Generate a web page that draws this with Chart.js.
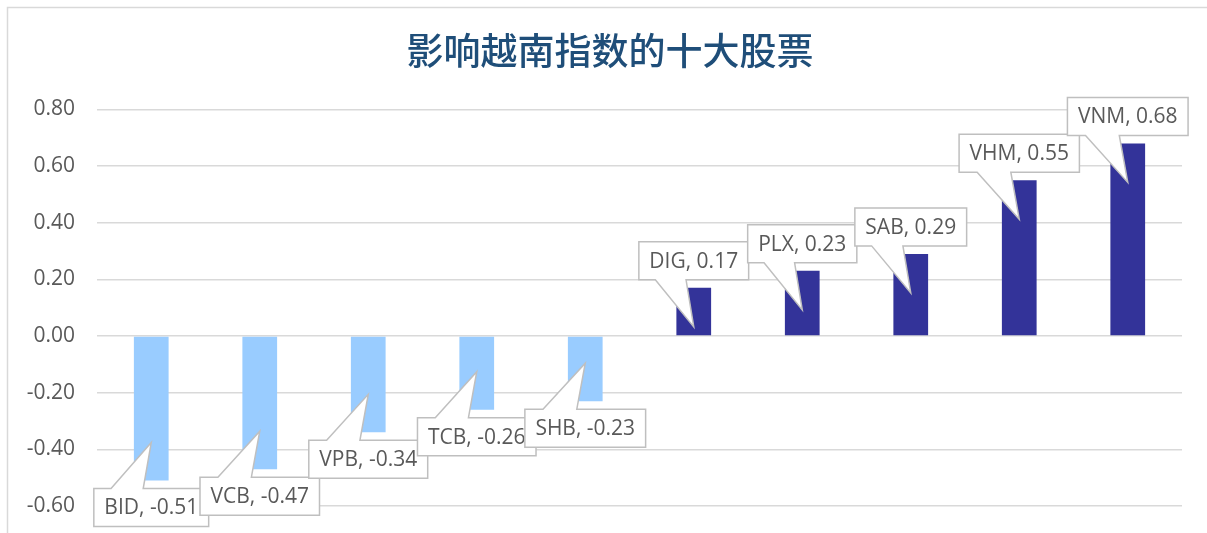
<!DOCTYPE html>
<html>

<head>
    <meta charset="utf-8">
    <title>影响越南指数的十大股票</title>
    <script src="https://cdn.jsdelivr.net/npm/chart.js"></script>
    <style>
        body { margin: 0; background: #fff; }
    </style>
</head>

<body>
    <canvas id="myChart" width="1207" height="533"></canvas>
    <script>
        // data
        const stocks = ['BID', 'VCB', 'VPB', 'TCB', 'SHB', 'DIG', 'PLX', 'SAB', 'VHM', 'VNM'];
        const impact = [-0.51, -0.47, -0.34, -0.26, -0.23, 0.17, 0.23, 0.29, 0.55, 0.68];
        const chartTitle = '影响越南指数的十大股票';

        const textFont = "'Open Sans', 'Noto Sans', sans-serif";

        // frame line round the chart (top and left only are visible)
        const framePlugin = {
            id: 'frame',
            beforeDraw(chart) {
                const ctx = chart.ctx;
                ctx.save();
                ctx.strokeStyle = '#d9d9d9';
                ctx.lineWidth = 1.5;
                ctx.beginPath();
                ctx.moveTo(7.5, chart.height);
                ctx.lineTo(7.5, 7.5);
                ctx.lineTo(chart.width, 7.5);
                ctx.stroke();
                ctx.restore();
            }
        };

        // Excel-like callout labels pointing into each bar
        const calloutPlugin = {
            id: 'callouts',
            afterDatasetsDraw(chart) {
                const ctx = chart.ctx;
                const meta = chart.getDatasetMeta(0);
                ctx.save();
                ctx.font = '21px ' + textFont;
                meta.data.forEach((bar, i) => {
                    const v = impact[i];
                    const text = stocks[i] + ', ' + v.toFixed(2);
                    const w = ctx.measureText(text).width + 21;
                    const h = 38;
                    const left = bar.x - w / 2;
                    const right = left + w;
                    const gap = 8;
                    const wa = left + w * 0.15;
                    const wb = left + w * 0.43;
                    let top, bottom;
                    ctx.beginPath();
                    if (v >= 0) {
                        bottom = bar.y - gap;
                        top = bottom - h;
                        const tipY = bar.y + 39;
                        ctx.moveTo(left, top);
                        ctx.lineTo(right, top);
                        ctx.lineTo(right, bottom);
                        ctx.lineTo(wb, bottom);
                        ctx.lineTo(bar.x, tipY);
                        ctx.lineTo(wa, bottom);
                        ctx.lineTo(left, bottom);
                    } else {
                        top = bar.y + gap;
                        bottom = top + h;
                        const tipY = bar.y - 38;
                        ctx.moveTo(left, top);
                        ctx.lineTo(wa, top);
                        ctx.lineTo(bar.x, tipY);
                        ctx.lineTo(wb, top);
                        ctx.lineTo(right, top);
                        ctx.lineTo(right, bottom);
                        ctx.lineTo(left, bottom);
                    }
                    ctx.closePath();
                    ctx.fillStyle = '#ffffff';
                    ctx.fill();
                    ctx.strokeStyle = '#bfbfbf';
                    ctx.lineWidth = 1.5;
                    ctx.stroke();
                    ctx.fillStyle = '#595959';
                    ctx.textAlign = 'center';
                    ctx.textBaseline = 'middle';
                    ctx.fillText(text, bar.x, (top + bottom) / 2 + 1);
                });
                ctx.restore();
            }
        };

        const config = {
            type: 'bar',
            data: {
                labels: stocks,
                datasets: [{
                    label: '影响',
                    data: impact,
                    backgroundColor: ctx => impact[ctx.dataIndex] < 0 ? '#99ccff' : '#333399',
                    categoryPercentage: 1,
                    barPercentage: 0.32
                }]
            },
            options: {
                responsive: false,
                animation: false,
                layout: {
                    padding: { left: 13, right: 0, top: 0, bottom: 27 }
                },
                plugins: {
                    legend: { display: false },
                    tooltip: { enabled: false },
                    title: {
                        display: true,
                        text: chartTitle,
                        color: '#1f4e79',
                        font: { family: "'Noto Sans CJK SC', sans-serif", size: 37, weight: '500', lineHeight: 1.2 },
                        padding: { top: 29, bottom: 36 }
                    }
                },
                scales: {
                    x: {
                        display: false
                    },
                    y: {
                        min: -0.6,
                        max: 0.8,
                        border: { display: false },
                        grid: { color: '#d9d9d9', lineWidth: 1.5, drawTicks: false },
                        afterFit(scale) {
                            scale.width = 84;
                            scale.paddingTop = 0;
                            scale.paddingBottom = 0;
                        },
                        ticks: {
                            stepSize: 0.2,
                            padding: 22,
                            color: '#595959',
                            font: { family: textFont, size: 21 },
                            callback: v => v.toFixed(2)
                        }
                    },
                    // empty right-hand gutter
                    yRight: {
                        position: 'right',
                        display: true,
                        border: { display: false },
                        grid: { display: false },
                        ticks: { display: false },
                        afterFit(scale) {
                            scale.width = 25;
                            scale.paddingTop = 0;
                            scale.paddingBottom = 0;
                        }
                    }
                }
            },
            plugins: [framePlugin, calloutPlugin]
        };

        var myChart = new Chart(document.getElementById('myChart'), config);
    </script>
</body>

</html>
